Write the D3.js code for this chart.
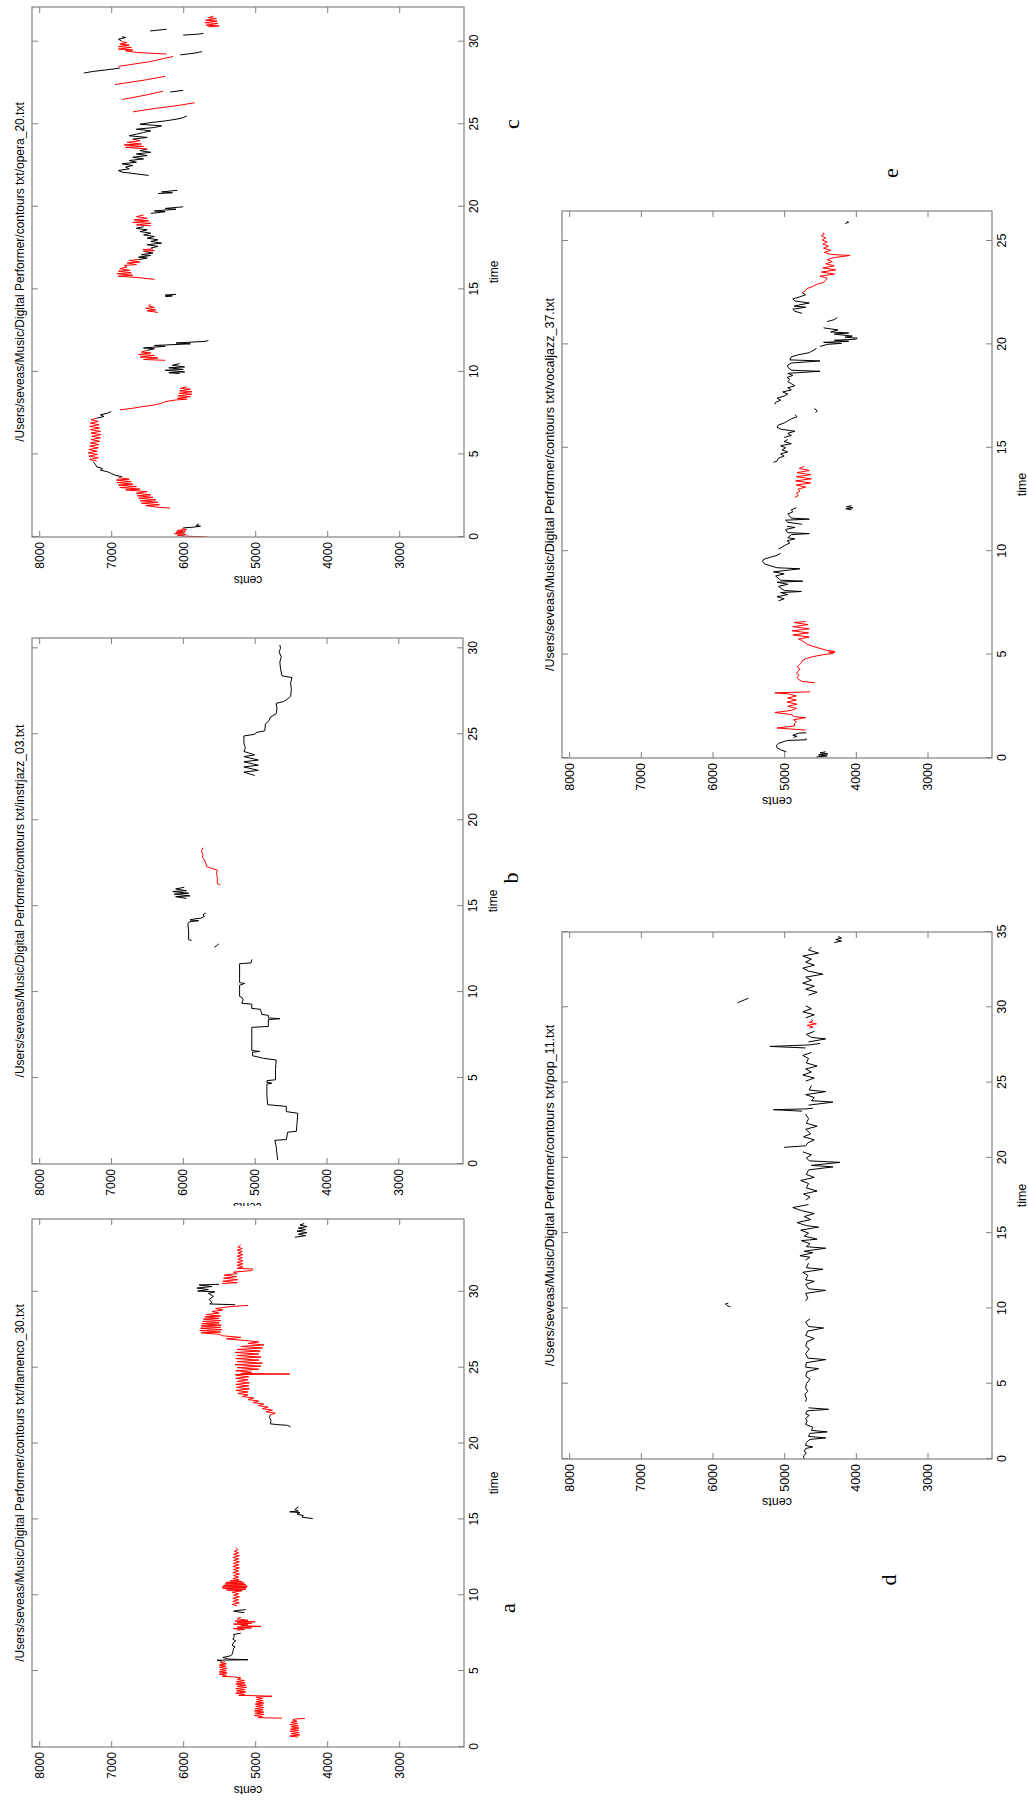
<!DOCTYPE html>
<html><head><meta charset="utf-8">
<script src="https://cdn.jsdelivr.net/npm/d3@7"></script>
<style>body{margin:0;background:#fff}</style>
</head><body><svg id="fig" width="1028" height="1800"></svg>
<script>
// ---------- data ----------
const centsTicks = [8000, 7000, 6000, 5000, 4000, 3000];
const centsDomain = [2100, 8100];
const timeTicksA = [0, 5, 10, 15, 20, 25, 30];
const timeTicksB = [0, 5, 10, 15, 20, 25, 30];
const timeTicksC = [0, 5, 10, 15, 20, 25, 30];
const timeTicksD = [0, 5, 10, 15, 20, 25, 30, 35];
const timeTicksE = [0, 5, 10, 15, 20, 25];
const titlePrefix = "/Users/seveas/Music/Digital Performer/contours txt/";
const fileNames = { a: "flamenco_30.txt", b: "instrjazz_03.txt", c: "opera_20.txt", d: "pop_11.txt", e: "vocaljazz_37.txt" };

// contour segments: [time (s), pitch (cents)]; cls melody = red, other = black
const segC = [
 {cls:'melody', p:[[0.0,5660],[0.05,5950],[0.1,6080],[0.15,5960],[0.2,6120],[0.25,5980],[0.3,6100],[0.35,5970],[0.4,6080],[0.45,5950],[0.5,6020]]},
 {cls:'other', p:[[0.55,6000],[0.6,5850],[0.65,5760],[0.7,5820],[0.8,5780]]},
 {cls:'melody', p:[[1.75,6180],[1.8,6350],[1.9,6520],[1.95,6330],[2.05,6580],[2.1,6350],[2.2,6600],[2.25,6380],[2.35,6620],[2.4,6420],[2.5,6640],[2.55,6450],[2.65,6650],[2.75,6500],[2.85,6800],[2.9,6600],[3.0,6880],[3.05,6650],[3.15,6900],[3.2,6700],[3.3,6920],[3.35,6720],[3.45,6930],[3.5,6750],[3.6,6900]]},
 {cls:'other', p:[[3.65,6850],[3.75,6950],[3.85,7000],[3.95,7050],[4.05,7150],[4.15,7120],[4.25,7200],[4.4,7220],[4.55,7250]]},
 {cls:'melody', p:[[4.6,7200],[4.7,7300],[4.8,7180],[4.9,7310],[5.0,7190],[5.1,7320],[5.2,7200],[5.3,7310],[5.4,7180],[5.5,7300],[5.6,7170],[5.7,7290],[5.8,7160],[5.9,7280],[6.0,7150],[6.1,7270],[6.2,7140],[6.3,7280],[6.4,7150],[6.5,7290],[6.6,7160],[6.7,7300],[6.8,7170],[6.9,7290],[7.0,7180],[7.1,7280],[7.2,7200]]},
 {cls:'other', p:[[7.2,7200],[7.3,7100],[7.4,7150],[7.5,7050],[7.6,7000]]},
 {cls:'melody', p:[[7.7,6880],[7.8,6700],[7.9,6560],[8.0,6400],[8.1,6300],[8.2,6250],[8.3,6100],[8.35,5950],[8.4,6080],[8.5,5900],[8.55,6070],[8.65,5880],[8.7,6060],[8.8,5880],[8.85,6050],[8.95,5900],[9.0,6040],[9.1,5950]]},
 {cls:'other', p:[[9.9,6050],[9.95,6200],[10.0,5980],[10.1,6250],[10.15,6000],[10.25,6200],[10.3,5980],[10.4,6150],[10.5,6050]]},
 {cls:'melody', p:[[10.7,6250],[10.75,6550],[10.85,6350],[10.9,6600],[11.0,6400],[11.05,6620],[11.15,6450],[11.2,6580],[11.3,6500]]},
 {cls:'other', p:[[11.3,6500],[11.4,6400],[11.45,6550],[11.55,6250],[11.6,6400],[11.7,5900],[11.75,6100],[11.85,5700],[11.9,5650]]},
 {cls:'melody', p:[[13.6,6350],[13.7,6500],[13.75,6380],[13.85,6520],[13.9,6400],[14.0,6480],[14.1,6450]]},
 {cls:'other', p:[[14.55,6250],[14.6,6150],[14.65,6250],[14.7,6100]]},
 {cls:'melody', p:[[15.6,6400],[15.7,6600],[15.8,6900],[15.85,6700],[15.95,6920],[16.0,6720],[16.1,6900],[16.15,6740],[16.25,6880],[16.35,6780],[16.45,6820],[16.5,6650],[16.6,6780],[16.65,6600],[16.75,6750],[16.8,6620]]},
 {cls:'other', p:[[16.8,6620],[16.9,6500],[16.95,6620],[17.05,6450],[17.1,6580],[17.2,6420],[17.3,6550]]},
 {cls:'melody', p:[[17.3,6550],[17.35,6400],[17.4,6560],[17.45,6420]]},
 {cls:'other', p:[[17.5,6450],[17.6,6350],[17.7,6500],[17.8,6300],[17.9,6450],[18.0,6350],[18.1,6500],[18.2,6400],[18.3,6550],[18.4,6450],[18.5,6600],[18.6,6500],[18.7,6650],[18.8,6550]]},
 {cls:'melody', p:[[18.85,6450],[18.9,6650],[19.0,6450],[19.05,6700],[19.15,6480],[19.2,6680],[19.3,6500],[19.4,6650],[19.5,6550]]},
 {cls:'other', p:[[19.6,6450],[19.7,6250],[19.75,6400],[19.85,6100],[19.9,6250],[20.0,6000]]},
 {cls:'other', p:[[20.8,6350],[20.85,6150],[20.9,6300],[21.0,6080]]},
 {cls:'other', p:[[21.9,6480],[22.1,6850],[22.2,6900],[22.3,6750],[22.4,6800],[22.5,6700],[22.6,6850],[22.7,6650],[22.8,6750],[22.9,6550],[23.0,6700],[23.1,6500],[23.2,6650],[23.3,6450],[23.4,6600],[23.5,6500]]},
 {cls:'melody', p:[[23.5,6500],[23.6,6800],[23.65,6550],[23.75,6820],[23.8,6580],[23.9,6780],[24.0,6600],[24.1,6700]]},
 {cls:'other', p:[[24.1,6700],[24.2,6500],[24.3,6750],[24.4,6650],[24.5,6550],[24.6,6450],[24.7,6650],[24.8,6400],[24.9,6300],[25.0,6600],[25.1,6450],[25.2,6250],[25.3,6100],[25.4,6000],[25.5,5950]]},
 {cls:'melody', p:[[25.75,6700],[25.85,6550],[25.95,6400],[26.05,6220],[26.15,6050],[26.3,5840]]},
 {cls:'melody', p:[[26.5,6850],[26.6,6720],[26.7,6600],[26.8,6480],[26.9,6380],[27.0,6280]]},
 {cls:'other', p:[[26.95,6180],[27.05,6000]]},
 {cls:'melody', p:[[27.4,6950],[27.5,6800],[27.6,6650],[27.7,6500],[27.8,6380],[27.9,6250]]},
 {cls:'other', p:[[28.1,7380],[28.2,7250],[28.3,7050],[28.4,6880]]},
 {cls:'melody', p:[[28.5,6900],[28.6,6750],[28.7,6600],[28.8,6450],[28.9,6350],[29.0,6250],[29.1,6140]]},
 {cls:'other', p:[[29.2,6040],[29.3,5850],[29.4,5740]]},
 {cls:'melody', p:[[29.25,6230],[29.3,6450],[29.35,6650],[29.45,6800],[29.5,6700],[29.55,6900],[29.65,6720],[29.7,6900],[29.8,6750],[29.85,6880],[29.95,6780],[30.0,6860]]},
 {cls:'other', p:[[30.05,6860],[30.15,6900],[30.25,6800],[30.3,6850]]},
 {cls:'other', p:[[30.4,6000],[30.45,5800],[30.5,5720]]},
 {cls:'other', p:[[30.65,6460],[30.7,6350],[30.75,6230]]},
 {cls:'melody', p:[[30.9,5650],[30.95,5500],[31.0,5680],[31.1,5520],[31.15,5700],[31.25,5530],[31.3,5690],[31.4,5540],[31.45,5650],[31.55,5580]]}
];

const segB = [
 {cls:'other', p:[[0.23,4680],[0.6,4690],[1.0,4700],[1.38,4720],[1.42,4560],[1.85,4540],[1.9,4420],[2.4,4410],[2.95,4400],[3.05,4560],[3.35,4560],[3.45,4820],[4.0,4830],[4.65,4830],[4.7,4760],[4.75,4830],[4.85,4830],[4.9,4710],[5.5,4710],[6.05,4700],[6.15,4880],[6.3,5030],[6.5,5030],[6.55,4930],[6.6,5040],[7.3,5040],[7.95,5040],[8.0,4810],[8.4,4810],[8.45,4650],[8.5,4810],[8.65,4810],[8.7,4900],[9.0,4920],[9.05,5040],[9.3,5040],[9.35,5180],[9.55,5160],[9.7,5180],[9.75,5210],[10.4,5210],[10.5,5140],[10.55,5210],[11.65,5210],[11.7,5050],[11.9,5040]]},
 {cls:'other', p:[[12.6,5560],[12.7,5530],[12.8,5500]]},
 {cls:'other', p:[[13.0,5880],[13.05,5920],[13.5,5920],[14.0,5930],[14.1,5900],[14.15,5780],[14.2,5900],[14.25,5850],[14.3,5750],[14.4,5700],[14.5,5720],[14.6,5680]]},
 {cls:'other', p:[[15.45,5950],[15.55,6100],[15.6,5900],[15.7,6120],[15.75,5920],[15.85,6140],[15.9,5950],[16.0,6100],[16.1,5980]]},
 {cls:'melody', p:[[16.25,5480],[16.3,5520],[16.6,5520],[16.9,5530],[17.1,5520],[17.2,5600],[17.3,5670],[17.5,5680],[17.7,5700],[17.85,5730],[18.0,5720],[18.2,5740],[18.4,5720]]},
 {cls:'other', p:[[22.6,5000],[22.8,5150],[22.9,4950],[23.1,5150],[23.2,4950],[23.4,5150],[23.5,4950],[23.7,5150],[23.8,5000],[24.0,5150],[24.2,5130],[24.5,5150],[24.9,5150],[25.0,5000],[25.1,4980],[25.2,4860],[25.6,4850],[25.8,4800],[26.0,4780],[26.2,4700],[26.5,4690],[26.8,4700],[26.9,4600],[27.0,4560],[27.2,4500],[27.6,4490],[28.0,4500],[28.3,4480],[28.4,4620],[28.8,4640],[29.2,4650],[29.5,4630],[29.8,4660],[30.0,4640],[30.2,4650]]}
];

const segA = [
 {cls:'melody', p:[[0.65,4400],[0.72,4520],[0.8,4380],[0.88,4500],[0.95,4390],[1.03,4520],[1.1,4400],[1.18,4510],[1.25,4390],[1.33,4500],[1.4,4400],[1.48,4520],[1.55,4410],[1.63,4500],[1.7,4420],[1.78,4480],[1.85,4440],[1.88,4310]]},
 {cls:'melody', p:[[1.9,4630],[1.93,4960],[2.0,4900],[2.08,5010],[2.15,4880],[2.23,5000],[2.3,4880],[2.38,5010],[2.45,4890],[2.53,5000],[2.6,4880],[2.68,4990],[2.75,4890],[2.83,5000],[2.9,4880],[2.98,4990],[3.05,4890],[3.13,4980],[3.2,4900],[3.28,4990],[3.35,4770],[3.38,5000],[3.4,5230],[3.48,5150],[3.55,5270],[3.63,5130],[3.7,5260],[3.78,5140],[3.85,5270],[3.93,5120],[4.0,5250],[4.08,5130],[4.15,5270],[4.23,5140],[4.3,5260],[4.38,5150],[4.45,5250],[4.55,5200],[4.62,5300],[4.66,5460],[4.73,5400],[4.8,5500],[4.88,5390],[4.95,5500],[5.03,5400],[5.1,5490],[5.18,5390],[5.25,5500],[5.33,5410],[5.4,5500],[5.48,5400],[5.55,5480],[5.62,5420]]},
 {cls:'other', p:[[5.65,5460],[5.72,5530],[5.75,5100],[5.8,5380],[5.9,5450],[6.0,5350],[6.1,5320],[6.3,5310],[6.5,5300],[6.6,5280],[6.7,5320],[6.9,5300],[7.0,5270],[7.1,5310],[7.3,5290],[7.42,5300],[7.5,5200]]},
 {cls:'melody', p:[[7.7,5250],[7.75,5150],[7.8,5300],[7.85,5050],[7.9,5250],[7.95,4920],[8.0,5200],[8.05,5100],[8.1,5300],[8.15,5050],[8.2,5250],[8.25,5000],[8.3,5280],[8.35,5100],[8.45,5250],[8.55,5200]]},
 {cls:'other', p:[[8.85,5150],[8.95,5300],[9.0,5250],[9.05,5130]]},
 {cls:'melody', p:[[9.3,5250],[9.4,5320],[9.5,5220],[9.6,5310],[9.7,5230],[9.8,5310],[9.9,5220],[10.0,5300],[10.1,5230],[10.2,5320],[10.3,5180],[10.35,5400],[10.4,5130],[10.45,5450],[10.5,5120],[10.55,5460],[10.6,5110],[10.65,5440],[10.7,5130],[10.75,5420],[10.8,5150],[10.85,5400],[10.9,5180],[10.95,5350],[11.0,5220],[11.1,5310],[11.2,5230],[11.3,5300],[11.4,5220],[11.5,5310],[11.6,5230],[11.7,5300],[11.8,5220],[11.9,5310],[12.0,5230],[12.1,5300],[12.2,5220],[12.3,5300],[12.4,5230],[12.5,5310],[12.6,5220],[12.7,5300],[12.8,5230],[12.9,5290],[13.0,5240],[13.15,5270]]},
 {cls:'other', p:[[15.05,4200],[15.15,4350],[15.25,4330],[15.35,4420],[15.45,4380],[15.5,4520],[15.55,4400],[15.65,4450],[15.75,4420],[15.85,4400]]},
 {cls:'other', p:[[21.1,4510],[21.2,4550],[21.25,4700],[21.3,4790],[21.5,4780],[21.7,4800],[21.9,4790]]},
 {cls:'melody', p:[[21.9,4790],[22.0,4720],[22.1,4850],[22.2,4760],[22.3,4900],[22.4,4820],[22.5,4960],[22.6,4880],[22.7,5030],[22.8,4950],[22.9,5100],[23.0,5020],[23.1,5180],[23.2,5100],[23.3,5240],[23.4,5100],[23.5,5270],[23.6,5080],[23.7,5260],[23.8,5090],[23.9,5270],[24.0,5080],[24.1,5250],[24.2,5100],[24.3,5270],[24.4,5090],[24.5,5260],[24.55,5280],[24.58,4520],[24.62,5200],[24.7,5050],[24.8,5270],[24.9,4950],[25.0,5250],[25.1,4920],[25.2,5280],[25.3,4900],[25.4,5250],[25.5,4950],[25.6,5270],[25.7,4920],[25.8,5250],[25.9,4950],[26.0,5280],[26.1,4930],[26.2,5250],[26.3,4900],[26.4,5200],[26.5,4880],[26.6,5100],[26.7,4950],[26.8,5150],[26.9,5400],[27.0,5200],[27.1,5450],[27.2,5500],[27.3,5750],[27.35,5480],[27.45,5770],[27.5,5460],[27.6,5760],[27.65,5480],[27.75,5750],[27.8,5470],[27.9,5740],[27.95,5500],[28.05,5730],[28.1,5480],[28.2,5720],[28.25,5500],[28.35,5700],[28.4,5480],[28.5,5680],[28.6,5500],[28.7,5600],[28.8,5450],[28.9,5550],[29.0,5400],[29.05,5280],[29.1,5100]]},
 {cls:'other', p:[[29.15,5280],[29.2,5630],[29.3,5600],[29.5,5640],[29.7,5580],[29.9,5650],[30.0,5560],[30.05,5800],[30.15,5650],[30.25,5810],[30.35,5600],[30.45,5780],[30.5,5500]]},
 {cls:'melody', p:[[30.55,5460],[30.6,5250],[30.7,5450],[30.8,5240],[30.9,5440],[31.0,5260],[31.1,5430],[31.2,5250],[31.3,5300],[31.4,5050],[31.5,5030],[31.55,5250],[31.65,5170],[31.75,5250],[31.85,5170],[31.95,5250],[32.05,5170],[32.15,5240],[32.25,5180],[32.35,5250],[32.45,5170],[32.55,5240],[32.65,5180],[32.75,5250],[32.85,5180],[32.95,5240],[33.1,5200]]},
 {cls:'other', p:[[33.6,4450],[33.7,4300],[33.8,4400],[33.9,4280],[34.0,4420],[34.1,4300],[34.2,4400],[34.3,4280],[34.4,4380],[34.5,4320]]}
];

const segE = [
 {cls:'other', p:[[0.05,4550],[0.1,4400],[0.15,4520],[0.2,4390],[0.25,4500],[0.3,4420]]},
 {cls:'other', p:[[0.3,4970],[0.4,5050],[0.5,5100],[0.6,5110],[0.7,5080],[0.8,5000],[0.85,4950],[0.88,4690],[0.95,4700]]},
 {cls:'other', p:[[1.0,4870],[1.05,4820],[1.1,4880],[1.15,4840],[1.2,4800],[1.22,4690]]},
 {cls:'melody', p:[[1.35,4700],[1.4,4900],[1.45,5100],[1.55,4850],[1.65,4860],[1.75,4830],[1.85,4870],[1.95,4700],[2.0,4860],[2.1,4900],[2.2,5130],[2.3,4900],[2.4,4830],[2.5,4950],[2.6,4820],[2.7,4960],[2.8,4830],[2.9,4950],[3.0,4830],[3.1,4940],[3.15,5130],[3.2,4640]]},
 {cls:'melody', p:[[3.64,4570],[3.7,4750],[3.8,4800],[3.9,4820],[4.0,4790],[4.1,4830],[4.2,4800],[4.3,4780],[4.4,4820],[4.5,4790],[4.6,4760],[4.7,4750],[4.8,4700],[4.9,4600],[5.0,4450],[5.05,4330],[5.1,4300],[5.12,4380],[5.15,4290],[5.2,4400],[5.3,4500],[5.4,4600],[5.5,4680],[5.6,4720],[5.7,4760],[5.75,4800],[5.85,4650],[5.95,4880],[6.05,4660],[6.15,4890],[6.25,4650],[6.35,4880],[6.45,4670],[6.55,4860],[6.6,4700]]},
 {cls:'other', p:[[7.6,5080],[7.7,5000],[7.8,5100],[7.9,4950],[8.0,5050],[8.05,4760],[8.1,5000],[8.3,5080],[8.4,4950],[8.5,5100],[8.55,4740],[8.6,5050],[8.8,5120],[8.9,5000],[9.0,5150],[9.1,4900],[9.15,4780],[9.2,5100],[9.3,5200],[9.4,5280],[9.5,5300],[9.6,5290],[9.7,5200],[9.8,5100],[9.9,5050]]},
 {cls:'other', p:[[10.1,5080],[10.3,4980],[10.4,4920],[10.5,4960],[10.6,4850],[10.65,4950],[10.8,4900],[10.85,4650],[10.9,4950],[11.05,4980],[11.15,4850],[11.2,4960]]},
 {cls:'other', p:[[11.3,4750],[11.4,4950],[11.5,4980],[11.55,4650],[11.6,4900],[11.7,4920],[11.8,4950],[11.9,4880],[12.0,4900],[12.1,4830]]},
 {cls:'other', p:[[12.0,4060],[12.05,4140],[12.1,4040],[12.15,4130],[12.2,4060]]},
 {cls:'melody', p:[[12.6,4850],[12.7,4800],[12.8,4830],[12.9,4780],[13.0,4810],[13.1,4700],[13.2,4830],[13.3,4630],[13.4,4840],[13.5,4620],[13.6,4830],[13.7,4630],[13.8,4820],[13.9,4650],[14.0,4790],[14.1,4720]]},
 {cls:'other', p:[[14.3,5150],[14.35,5100],[14.5,5080],[14.6,5000],[14.7,5050],[14.8,4950],[14.9,5030],[15.0,4980],[15.1,5050],[15.2,4900],[15.3,5000],[15.4,4950]]},
 {cls:'other', p:[[15.5,5000],[15.6,4900],[15.7,4950],[15.8,4850],[15.9,5050],[16.0,5100],[16.1,5080],[16.2,5000],[16.3,4950],[16.4,4900],[16.5,4820],[16.6,4850]]},
 {cls:'other', p:[[16.7,4560],[16.8,4540],[16.9,4580]]},
 {cls:'other', p:[[17.1,5130],[17.2,5120],[17.3,5050],[17.4,5100],[17.5,5000],[17.6,4950],[17.7,5020],[17.8,4900],[17.9,4950],[18.0,4850],[18.1,4900],[18.2,4950],[18.3,4920],[18.4,4960],[18.5,4880],[18.6,4950],[18.7,4500],[18.75,4900],[18.9,4950],[19.0,4950],[19.1,4900],[19.2,4500],[19.25,4920],[19.4,4900],[19.5,4800],[19.6,4650],[19.7,4600],[19.8,4550]]},
 {cls:'other', p:[[19.9,4500],[20.0,4400],[20.05,4200],[20.1,4450],[20.15,4100],[20.2,4300],[20.25,4000],[20.3,3980],[20.35,4150],[20.4,4050],[20.5,4300],[20.55,4100],[20.6,4350],[20.7,4250],[20.8,4450]]},
 {cls:'other', p:[[21.1,4400],[21.2,4300],[21.3,4260]]},
 {cls:'other', p:[[21.5,4750],[21.6,4850],[21.7,4880],[21.8,4700],[21.85,4860],[21.9,4800],[22.0,4650],[22.1,4850],[22.2,4880],[22.3,4780],[22.4,4700],[22.5,4750]]},
 {cls:'melody', p:[[22.5,4750],[22.6,4700],[22.7,4680],[22.8,4600],[22.9,4550],[23.0,4450],[23.1,4420],[23.2,4400],[23.3,4500],[23.4,4300],[23.5,4480],[23.6,4280],[23.7,4460],[23.8,4300],[23.9,4420],[24.0,4330],[24.1,4400],[24.2,4300],[24.3,4080],[24.35,4350],[24.45,4440],[24.55,4350],[24.65,4450],[24.75,4380],[24.85,4460],[24.95,4400],[25.05,4470],[25.15,4420],[25.25,4480],[25.35,4440],[25.4,4460]]},
 {cls:'other', p:[[25.85,4150],[25.9,4100],[25.95,4120]]}
];

const segD = [
 {cls:'other', p:[[0.0,4720],[0.2,4730],[0.4,4690],[0.5,4720],[0.7,4700],[0.8,4600],[0.9,4700],[1.1,4690],[1.3,4640],[1.4,4420],[1.5,4660],[1.7,4640],[1.8,4400],[1.9,4620],[2.1,4600],[2.3,4700],[2.5,4680],[2.7,4700],[2.9,4650],[3.0,4700],[3.2,4680],[3.3,4380],[3.4,4660]]},
 {cls:'other', p:[[3.8,4700],[4.0,4690],[4.3,4710],[4.5,4670],[4.7,4700],[5.0,4690],[5.3,4640],[5.5,4700],[5.8,4680],[6.0,4520],[6.1,4700],[6.4,4690],[6.6,4420],[6.7,4670],[7.0,4700],[7.3,4650],[7.5,4700],[7.8,4680],[8.0,4580],[8.2,4700],[8.5,4670],[8.7,4450],[8.8,4660],[9.1,4700],[9.3,4640]]},
 {cls:'other', p:[[10.1,5750],[10.2,5800],[10.3,5820],[10.35,5780]]},
 {cls:'other', p:[[10.5,4700],[10.7,4670],[11.0,4700],[11.2,4420],[11.3,4660],[11.6,4700],[11.8,4580],[11.9,4700],[12.2,4670],[12.4,4740],[12.6,4460],[12.7,4690],[13.0,4660]]},
 {cls:'other', p:[[13.2,4700],[13.4,4640],[13.5,4780],[13.7,4600],[13.8,4720],[14.0,4420],[14.1,4690],[14.3,4640],[14.5,4760],[14.6,4540],[14.8,4720],[15.0,4660],[15.2,4770],[15.4,4520],[15.5,4690],[15.7,4820],[15.9,4630],[16.1,4720],[16.3,4580],[16.5,4760],[16.7,4880],[16.9,4660]]},
 {cls:'other', p:[[17.2,4700],[17.4,4640],[17.6,4730],[17.8,4540],[18.0,4690],[18.3,4660],[18.5,4770],[18.7,4580],[18.9,4690],[19.2,4660],[19.4,4320],[19.5,4620],[19.7,4220],[19.8,4650],[20.0,4690],[20.2,4620],[20.4,4740]]},
 {cls:'other', p:[[20.7,5000],[20.8,4700],[21.0,4670],[21.2,4580],[21.4,4730],[21.6,4630],[21.9,4700],[22.1,4540],[22.3,4690],[22.6,4660],[22.9,4700]]},
 {cls:'other', p:[[23.1,4750],[23.2,5150],[23.25,4700],[23.3,4600]]},
 {cls:'other', p:[[23.5,4660],[23.7,4320],[23.8,4620],[24.0,4580],[24.2,4700],[24.4,4420],[24.5,4650],[24.8,4620]]},
 {cls:'other', p:[[25.1,4700],[25.3,4580],[25.5,4740],[25.7,4620],[25.9,4700],[26.1,4540],[26.3,4690],[26.6,4660],[26.8,4740],[27.0,4620]]},
 {cls:'other', p:[[27.3,4700],[27.4,5200],[27.5,4650],[27.6,4500]]},
 {cls:'other', p:[[27.7,4660],[27.9,4420],[28.0,4620],[28.2,4690],[28.4,4580]]},
 {cls:'melody', p:[[28.6,4650],[28.7,4600],[28.8,4680],[28.9,4550],[29.0,4650],[29.1,4600],[29.2,4620]]},
 {cls:'other', p:[[29.3,4700],[29.5,4580],[29.7,4740],[29.9,4620],[30.1,4700]]},
 {cls:'other', p:[[30.3,5650],[30.4,5600],[30.5,5550],[30.6,5500]]},
 {cls:'other', p:[[30.8,4660],[31.0,4540],[31.2,4700],[31.4,4580],[31.6,4740],[31.8,4620],[32.0,4700],[32.2,4460],[32.4,4660],[32.6,4740],[32.8,4580],[33.0,4700],[33.2,4620],[33.4,4740],[33.6,4520],[33.8,4660],[34.0,4620]]},
 {cls:'other', p:[[34.3,4300],[34.4,4200],[34.5,4280],[34.6,4200],[34.7,4250]]}
];

// ---------- layout (screen pixels) ----------
const panelLayout = [
 {id:'c', segs:segC, ticks:timeTicksC, tmax:32.1, x0:32, x1:464, y0:7,   y1:537,  fs:12, tfs:12},
 {id:'b', segs:segB, ticks:timeTicksB, tmax:30.6, x0:32, x1:463, y0:638, y1:1164, fs:12, tfs:12, clipBottom:1206},
 {id:'a', segs:segA, ticks:timeTicksA, tmax:34.8, x0:32, x1:464, y0:1219,y1:1747, fs:12, tfs:12},
 {id:'e', segs:segE, ticks:timeTicksE, tmax:26.45,x0:562,x1:992, y0:211, y1:758,  fs:12.5, tfs:12.5},
 {id:'d', segs:segD, ticks:timeTicksD, tmax:35,   x0:562,x1:992, y0:932, y1:1459, fs:12.5, tfs:12.5}
];
const letterPos = {a:[507,1608], b:[510,878], c:[511,124], d:[888,1580], e:[890,173]};

const colour = {melody:'#ff0000', other:'#000000'};
const frameColour = '#808080';
const sans = '"Liberation Sans", Arial, Helvetica, sans-serif';

const svg = d3.select('#fig');
svg.append('rect').attr('width',1028).attr('height',1800).attr('fill','#fff');
const defs = svg.append('defs');

function styleAxis(sel, fs){
  sel.select('.domain').remove();
  sel.selectAll('.tick line').attr('stroke', frameColour);
  sel.selectAll('.tick text').attr('fill','#000').style('font', `${fs}px ${sans}`);
}

panelLayout.forEach(cfg => {
  const W = cfg.y1 - cfg.y0, H = cfg.x1 - cfg.x0;
  const outer = svg.append('g');
  if (cfg.clipBottom) {
    defs.append('clipPath').attr('id','outerclip'+cfg.id).append('rect')
      .attr('x',0).attr('y',cfg.y0-120).attr('width',1028).attr('height',cfg.clipBottom-(cfg.y0-120));
    outer.attr('clip-path',`url(#outerclip${cfg.id})`);
  }
  const g = outer.append('g').attr('transform',`translate(${cfg.x0},${cfg.y1}) rotate(-90)`);
  const x = d3.scaleLinear().domain([0,cfg.tmax]).range([0,W]);
  const y = d3.scaleLinear().domain(centsDomain).range([H,0]);

  g.append('rect').attr('width',W).attr('height',H).attr('fill','#fff');

  const cid = 'clip'+cfg.id;
  defs.append('clipPath').attr('id',cid).append('rect').attr('width',W).attr('height',H);
  const line = d3.line().x(d=>x(d[0])).y(d=>y(d[1]));
  g.append('g').attr('clip-path',`url(#${cid})`)
    .selectAll('path').data(cfg.segs).join('path')
    .attr('d', s=>line(s.p)).attr('fill','none')
    .attr('stroke', s=>colour[s.cls]).attr('stroke-width',1)
    .attr('stroke-linejoin','round');

  const fmt = d3.format('d');
  g.append('g').attr('transform',`translate(0,${H})`)
    .call(d3.axisBottom(x).tickValues(cfg.ticks).tickSizeInner(-6).tickSizeOuter(0).tickPadding(5).tickFormat(fmt))
    .call(s=>styleAxis(s,cfg.fs));
  g.append('g')
    .call(d3.axisTop(x).tickValues(cfg.ticks).tickSizeInner(-6).tickSizeOuter(0).tickFormat(''))
    .call(s=>styleAxis(s,cfg.fs));
  g.append('g')
    .call(d3.axisLeft(y).tickValues(centsTicks).tickSizeInner(-6).tickSizeOuter(0).tickPadding(5).tickFormat(fmt))
    .call(s=>styleAxis(s,cfg.fs));
  g.append('g').attr('transform',`translate(${W},0)`)
    .call(d3.axisRight(y).tickValues(centsTicks).tickSizeInner(-6).tickSizeOuter(0).tickFormat(''))
    .call(s=>styleAxis(s,cfg.fs));

  g.append('rect').attr('width',W).attr('height',H).attr('fill','none')
    .attr('stroke',frameColour).attr('stroke-width',1.2);

  g.append('text').attr('x',W/2).attr('y',-8).attr('text-anchor','middle')
    .style('font',`${cfg.tfs}px ${sans}`).attr('fill','#000')
    .text(titlePrefix + fileNames[cfg.id]);
  g.append('text').attr('x',W/2).attr('y',H+30).attr('dy','0.35em').attr('text-anchor','middle')
    .style('font',`${cfg.fs}px ${sans}`).attr('fill','#000').text('time');
  g.append('text').attr('transform',`translate(-43,${H/2}) rotate(-90)`).attr('dy','0.35em')
    .attr('text-anchor','middle').style('font',`${cfg.fs}px ${sans}`).attr('fill','#000').text('cents');
});

Object.entries(letterPos).forEach(([k,[lx,ly]]) => {
  svg.append('text').attr('transform',`translate(${lx},${ly}) rotate(-90)`)
    .attr('text-anchor','middle').attr('dy','0.35em')
    .style('font','22px "Liberation Serif", "Times New Roman", Times, serif').attr('fill','#000')
    .text(k);
});
</script>
</body></html>
